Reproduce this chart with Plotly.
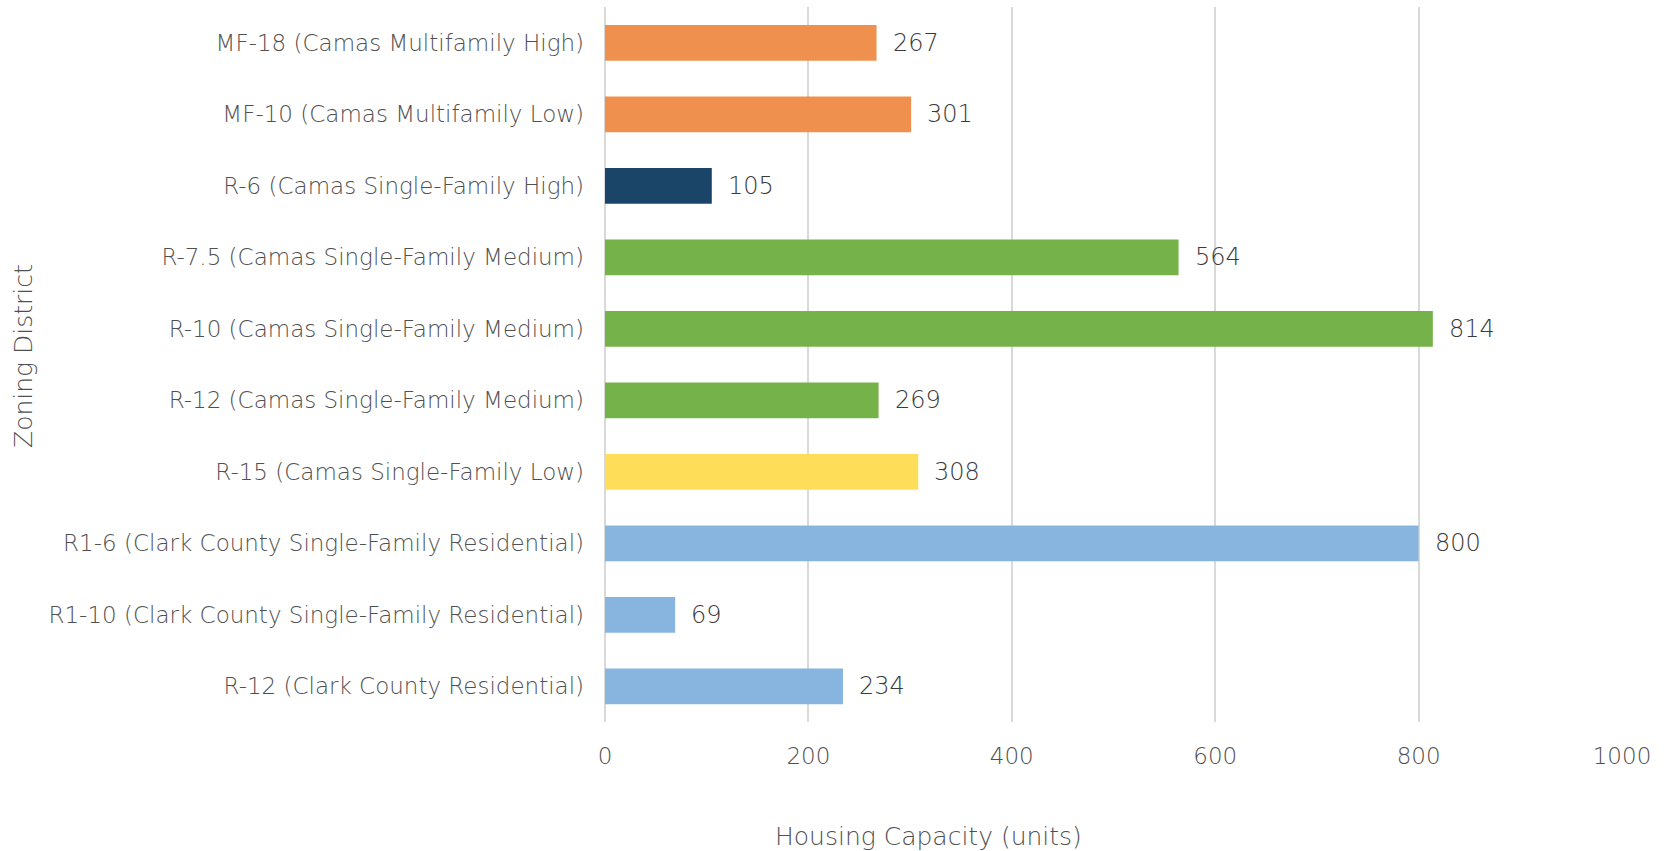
import plotly.graph_objects as go

districts = [
    "MF-18 (Camas Multifamily High)",
    "MF-10 (Camas Multifamily Low)",
    "R-6 (Camas Single-Family High)",
    "R-7.5 (Camas Single-Family Medium)",
    "R-10 (Camas Single-Family Medium)",
    "R-12 (Camas Single-Family Medium)",
    "R-15 (Camas Single-Family Low)",
    "R1-6 (Clark County Single-Family Residential)",
    "R1-10 (Clark County Single-Family Residential)",
    "R-12 (Clark County Residential)",
]
capacity = [267, 301, 105, 564, 814, 269, 308, 800, 69, 234]
bar_colors = [
    "#EF904F", "#EF904F", "#1B4469", "#75B34A", "#75B34A",
    "#75B34A", "#FEDE58", "#88B5E0", "#88B5E0", "#88B5E0",
]
x_ticks = [0, 200, 400, 600, 800, 1000]

FONT = "DejaVu Sans"
TEXT = "#505050"
WEIGHT = 200

fig = go.Figure(
    go.Bar(
        x=capacity,
        y=districts,
        orientation="h",
        marker=dict(color=bar_colors, line=dict(width=0)),
        width=0.5,
        hoverinfo="x+y",
    )
)

# value labels to the right of each bar
for name, val in zip(districts, capacity):
    fig.add_annotation(
        x=val, y=name, text=str(val), showarrow=False,
        xanchor="left", yanchor="middle", xshift=14,
        font=dict(family=FONT, size=24, color="#3A3A3A", weight=WEIGHT),
    )

fig.add_annotation(
    text="Housing Capacity (units)", xref="paper", yref="paper",
    x=(928 - 605) / 1017, y=-(836 - 722) / 715, showarrow=False,
    xanchor="center", yanchor="middle",
    font=dict(family=FONT, size=25, color=TEXT, weight=WEIGHT),
)
fig.add_annotation(
    text="Zoning District", xref="paper", yref="paper",
    x=-(605 - 23) / 1017, y=(722 - 356) / 715, showarrow=False,
    textangle=-90, xanchor="center", yanchor="middle",
    font=dict(family=FONT, size=25, color=TEXT, weight=WEIGHT),
)

fig.update_layout(
    width=1666, height=851,
    margin=dict(l=605, r=44, t=7, b=129),
    plot_bgcolor="white", paper_bgcolor="white",
    showlegend=False,
    font=dict(family=FONT, size=23, color=TEXT, weight=WEIGHT),
    xaxis=dict(
        range=[0, 1000], tickvals=x_ticks, tickformat="d",
        showgrid=True, gridcolor="#D9D9D9", gridwidth=2,
        zeroline=True, zerolinecolor="#D9D9D9", zerolinewidth=2,
        showline=False, ticks="", ticklabelstandoff=18,
        tickfont=dict(family=FONT, size=23, color=TEXT, weight=WEIGHT),
    ),
    yaxis=dict(
        autorange="reversed", showgrid=False, showline=False,
        ticks="", ticklabelstandoff=20,
        tickfont=dict(family=FONT, size=23, color=TEXT, weight=WEIGHT),
    ),
)

fig.write_html("out.html")
